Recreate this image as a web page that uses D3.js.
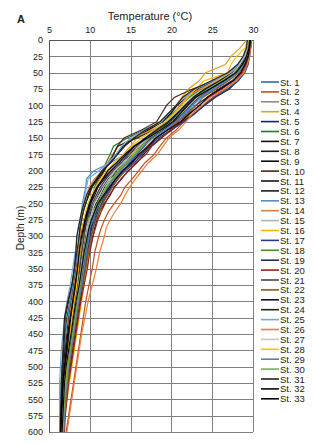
<!DOCTYPE html>
<html>
<head>
<meta charset="utf-8">
<script src="https://cdn.jsdelivr.net/npm/d3@7"></script>
<style>
  body { margin: 0; background: #fff; }
  text { font-family: "Liberation Sans", Arial, sans-serif; fill: #222; }
</style>
</head>
<body>
<div id="chart"></div>
<script>
// depth levels (m) and temperature profiles (°C) per station
var depths = [0, 12.5, 25, 37.5, 50, 62.5, 75, 87.5, 100, 112.5, 125, 137.5, 150,
              162.5, 175, 187.5, 200, 212.5, 225, 237.5, 250, 262.5, 275, 287.5, 300,
              325, 350, 375, 400, 425, 450, 475, 500, 525, 550, 575, 600];

var st1  = [29.6, 29.5, 29.2, 28.9, 28.1, 26.9, 25.4, 23.6, 22.3, 21.6, 20.3, 18.9, 17.6, 16.4, 15.6, 14.8, 13.6, 12.9, 12.2, 11.8, 11.1, 10.7, 10.4, 10.2, 10.0, 9.6, 9.3, 9.0, 8.6, 8.3, 8.0, 7.7, 7.4, 7.2, 7.0, 6.8, 6.7];
var st2  = [29.8, 29.7, 29.5, 29.2, 28.7, 27.9, 26.6, 25.1, 23.9, 22.6, 21.5, 20.6, 19.4, 18.6, 17.9, 16.8, 16.0, 15.2, 14.3, 13.8, 13.0, 12.3, 11.8, 11.4, 11.1, 10.6, 10.3, 9.9, 9.5, 9.2, 8.9, 8.6, 8.3, 8.0, 7.7, 7.4, 7.1];
var st3  = [29.4, 29.3, 29.0, 28.4, 27.6, 26.0, 24.3, 22.9, 21.8, 20.6, 19.7, 18.0, 16.9, 15.3, 14.6, 13.9, 12.8, 12.0, 11.3, 10.9, 10.4, 10.1, 9.8, 9.7, 9.5, 9.3, 9.0, 8.7, 8.4, 8.1, 7.8, 7.5, 7.3, 7.1, 6.9, 6.8, 6.7];
var st4  = [29.2, 28.4, 27.3, 26.6, 24.2, 23.4, 22.1, 21.3, 20.6, 19.8, 18.7, 17.4, 15.8, 15.0, 14.1, 13.3, 12.4, 11.5, 10.9, 10.5, 10.0, 9.8, 9.5, 9.3, 9.3, 9.1, 8.9, 8.6, 8.3, 8.0, 7.7, 7.5, 7.2, 7.0, 6.8, 6.7, 6.6];
var st5  = [29.7, 29.6, 29.4, 29.1, 28.5, 27.4, 25.8, 24.4, 23.0, 21.9, 20.6, 19.5, 18.1, 17.2, 16.3, 15.1, 14.2, 13.1, 12.6, 11.9, 11.4, 10.9, 10.6, 10.2, 10.1, 9.7, 9.4, 9.1, 8.7, 8.4, 8.1, 7.8, 7.5, 7.3, 7.1, 6.9, 6.8];
var st6  = [29.5, 29.4, 29.1, 28.6, 27.5, 25.8, 23.6, 22.2, 21.2, 20.1, 19.0, 16.7, 14.6, 12.9, 12.5, 12.0, 11.6, 11.0, 10.6, 10.3, 10.0, 9.8, 9.6, 9.4, 9.3, 9.0, 8.8, 8.5, 8.2, 7.9, 7.6, 7.4, 7.1, 6.9, 6.8, 6.7, 6.6];
var st7  = [29.6, 29.5, 29.2, 28.8, 27.9, 26.4, 24.8, 23.1, 22.0, 21.1, 20.0, 18.6, 17.3, 16.2, 15.2, 14.4, 13.5, 12.4, 11.8, 11.3, 10.8, 10.3, 10.0, 9.7, 9.5, 9.1, 8.8, 8.5, 8.1, 7.8, 7.5, 7.2, 7.0, 6.8, 6.7, 6.6, 6.5];
var st8  = [29.8, 29.7, 29.5, 29.3, 28.9, 28.1, 27.1, 25.4, 24.1, 22.8, 21.3, 20.1, 18.7, 17.5, 16.6, 15.8, 14.7, 13.9, 13.0, 12.5, 11.8, 11.2, 10.9, 10.6, 10.4, 9.9, 9.6, 9.2, 8.8, 8.5, 8.2, 7.9, 7.6, 7.3, 7.1, 6.9, 6.8];
var st9  = [29.3, 29.2, 28.9, 28.3, 27.2, 25.3, 23.2, 21.9, 20.7, 19.9, 18.9, 17.2, 15.5, 14.1, 13.3, 12.4, 11.7, 10.9, 10.2, 9.8, 9.5, 9.2, 9.0, 8.8, 8.7, 8.6, 8.4, 8.1, 7.7, 7.4, 7.2, 7.0, 6.8, 6.6, 6.5, 6.4, 6.4];
var st10 = [29.7, 29.6, 29.3, 28.7, 27.4, 25.2, 22.6, 20.4, 19.4, 18.8, 18.2, 16.4, 14.2, 13.4, 12.9, 12.3, 11.8, 11.2, 10.7, 10.4, 10.1, 9.9, 9.7, 9.5, 9.4, 9.2, 8.9, 8.7, 8.4, 8.1, 7.8, 7.5, 7.3, 7.1, 6.9, 6.8, 6.7];
var st11 = [29.5, 29.4, 29.2, 28.8, 28.0, 26.6, 24.9, 23.4, 22.6, 21.4, 20.4, 19.0, 17.5, 16.1, 14.9, 14.2, 13.2, 12.3, 11.6, 11.0, 10.5, 10.1, 9.8, 9.5, 9.4, 9.1, 8.9, 8.6, 8.3, 7.9, 7.6, 7.3, 7.1, 6.9, 6.7, 6.6, 6.5];
var st12 = [29.4, 29.3, 29.0, 28.5, 27.6, 26.1, 24.5, 22.8, 21.6, 20.9, 19.9, 18.3, 17.0, 15.9, 14.8, 13.8, 12.6, 11.6, 10.9, 10.3, 9.9, 9.6, 9.3, 9.1, 8.9, 8.6, 8.3, 8.0, 7.6, 7.2, 7.0, 6.9, 6.8, 6.7, 6.6, 6.5, 6.4];
var st13 = [29.6, 29.5, 29.3, 28.9, 28.2, 26.8, 25.2, 23.7, 22.6, 21.8, 20.7, 19.3, 17.6, 16.0, 14.3, 12.6, 10.5, 9.6, 9.5, 9.3, 9.1, 9.0, 8.9, 8.8, 8.7, 8.5, 8.2, 7.9, 7.6, 7.3, 7.0, 6.8, 6.6, 6.5, 6.4, 6.4, 6.3];
var st14 = [29.5, 29.4, 29.1, 28.5, 27.3, 25.5, 23.5, 21.9, 21.0, 20.3, 19.4, 17.6, 15.3, 13.5, 12.8, 12.2, 11.5, 10.6, 9.9, 9.6, 9.4, 9.2, 9.0, 8.9, 8.8, 8.6, 8.4, 8.1, 7.8, 7.5, 7.3, 7.1, 6.9, 6.8, 6.7, 6.6, 6.5];
var st15 = [29.3, 29.1, 28.8, 28.2, 27.0, 25.4, 23.9, 22.5, 21.5, 20.4, 19.5, 18.1, 16.7, 15.6, 14.8, 13.7, 12.9, 12.0, 11.4, 10.9, 10.4, 10.0, 9.8, 9.6, 9.4, 9.1, 8.9, 8.6, 8.3, 8.0, 7.7, 7.4, 7.2, 7.0, 6.8, 6.7, 6.6];
var st16 = [29.5, 29.3, 29.0, 28.3, 27.2, 25.7, 24.0, 22.7, 21.8, 20.7, 19.6, 18.4, 17.0, 16.2, 15.3, 14.6, 13.5, 12.9, 12.4, 11.8, 11.3, 11.0, 10.7, 10.4, 10.2, 9.9, 9.6, 9.3, 9.0, 8.7, 8.4, 8.1, 7.8, 7.5, 7.2, 6.9, 6.8];
var st17 = [29.8, 29.7, 29.6, 29.4, 29.0, 28.2, 26.9, 25.3, 24.0, 22.9, 21.6, 20.0, 18.4, 17.3, 16.4, 15.5, 14.4, 13.4, 12.7, 12.1, 11.5, 11.0, 10.7, 10.4, 10.2, 9.8, 9.4, 9.0, 8.6, 8.3, 8.0, 7.7, 7.4, 7.2, 7.0, 6.9, 6.8];
var st18 = [29.4, 29.3, 29.1, 28.7, 27.8, 26.3, 24.4, 23.0, 22.1, 21.0, 20.0, 18.8, 17.2, 16.3, 15.5, 14.5, 13.6, 12.8, 12.1, 11.5, 11.0, 10.6, 10.3, 10.0, 9.8, 9.5, 9.2, 8.9, 8.5, 8.2, 7.9, 7.6, 7.3, 7.1, 6.9, 6.8, 6.7];
var st19 = [29.6, 29.5, 29.2, 28.8, 28.0, 26.5, 24.7, 23.3, 22.4, 21.3, 20.2, 18.9, 17.5, 16.7, 15.8, 15.0, 14.1, 13.2, 12.5, 11.8, 11.2, 10.8, 10.4, 10.1, 9.9, 9.5, 9.2, 8.8, 8.4, 8.1, 7.8, 7.5, 7.2, 7.0, 6.9, 6.8, 6.7];
var st20 = [29.7, 29.6, 29.4, 29.1, 28.6, 27.6, 26.2, 24.6, 23.4, 22.3, 21.2, 19.9, 18.8, 17.6, 16.9, 15.7, 14.8, 13.8, 13.1, 12.4, 11.9, 11.4, 11.0, 10.7, 10.4, 10.0, 9.7, 9.3, 8.9, 8.6, 8.3, 8.0, 7.7, 7.4, 7.2, 7.0, 6.9];
var st21 = [29.5, 29.4, 29.1, 28.6, 27.7, 26.0, 24.2, 22.8, 21.9, 20.8, 19.8, 18.5, 16.9, 15.8, 14.7, 13.9, 12.9, 12.0, 11.3, 10.8, 10.3, 10.0, 9.7, 9.4, 9.3, 9.0, 8.7, 8.4, 8.1, 7.8, 7.5, 7.3, 7.1, 6.9, 6.7, 6.6, 6.5];
var st22 = [29.6, 29.5, 29.3, 28.9, 28.3, 27.0, 25.5, 23.9, 23.0, 22.0, 20.8, 19.6, 18.0, 17.0, 16.1, 15.3, 14.3, 13.5, 12.8, 12.2, 11.6, 11.2, 10.8, 10.4, 10.2, 9.8, 9.5, 9.1, 8.7, 8.4, 8.1, 7.8, 7.5, 7.3, 7.1, 6.9, 6.8];
var st23 = [29.4, 29.3, 29.0, 28.5, 27.5, 25.9, 24.1, 22.7, 21.7, 20.7, 19.6, 18.2, 16.8, 15.5, 14.5, 13.6, 12.6, 11.8, 11.0, 10.6, 10.1, 9.8, 9.5, 9.3, 9.1, 8.8, 8.6, 8.3, 8.0, 7.7, 7.4, 7.2, 7.0, 6.8, 6.7, 6.6, 6.5];
var st24 = [29.5, 29.4, 29.2, 28.7, 27.9, 26.4, 24.6, 23.1, 22.2, 21.1, 20.0, 17.9, 15.8, 13.4, 12.9, 12.5, 11.7, 11.0, 10.3, 9.9, 9.5, 9.2, 9.0, 8.8, 8.7, 8.4, 8.1, 7.8, 7.4, 7.0, 6.9, 6.8, 6.7, 6.6, 6.5, 6.4, 6.4];
var st25 = [29.3, 29.2, 28.9, 28.3, 27.1, 25.1, 23.0, 21.6, 20.5, 19.7, 18.8, 16.8, 15.0, 13.9, 13.2, 12.3, 11.1, 9.8, 9.6, 9.4, 9.2, 9.0, 8.8, 8.6, 8.5, 8.2, 7.9, 7.6, 7.2, 6.9, 6.7, 6.5, 6.4, 6.3, 6.3, 6.3, 6.3];
var st26 = [29.8, 29.7, 29.6, 29.3, 28.9, 28.0, 26.5, 24.8, 23.8, 22.6, 21.8, 20.9, 19.7, 19.0, 18.3, 17.2, 16.4, 15.6, 14.9, 14.3, 13.8, 13.1, 12.5, 12.0, 11.8, 11.2, 10.8, 10.3, 9.8, 9.4, 9.0, 8.7, 8.4, 8.1, 7.8, 7.5, 7.2];
var st27 = [29.4, 29.3, 29.0, 28.4, 27.6, 26.2, 24.6, 23.2, 22.2, 21.2, 20.1, 18.7, 17.1, 16.0, 15.1, 14.2, 13.1, 12.4, 11.7, 11.2, 10.6, 10.3, 10.0, 9.7, 9.6, 9.3, 9.0, 8.7, 8.3, 8.0, 7.7, 7.4, 7.1, 6.9, 6.8, 6.7, 6.6];
var st28 = [29.5, 29.0, 28.0, 27.3, 26.9, 24.0, 23.0, 22.0, 21.3, 20.3, 19.3, 17.9, 16.3, 15.2, 14.2, 13.0, 12.1, 11.3, 10.7, 10.2, 9.8, 9.5, 9.3, 9.1, 9.0, 8.8, 8.6, 8.4, 8.1, 7.8, 7.6, 7.4, 7.2, 7.0, 6.9, 6.8, 6.7];
var st29 = [29.6, 29.5, 29.3, 28.9, 28.1, 26.7, 25.0, 23.5, 22.5, 21.5, 20.5, 19.2, 17.7, 16.6, 15.7, 14.7, 13.8, 13.0, 12.3, 11.7, 11.1, 10.7, 10.4, 10.0, 9.9, 9.6, 9.3, 9.0, 8.6, 8.3, 8.0, 7.7, 7.4, 7.2, 7.0, 6.9, 6.8];
var st30 = [29.5, 29.4, 29.1, 28.7, 27.8, 26.2, 24.5, 23.0, 22.0, 21.0, 20.1, 18.8, 17.3, 16.4, 15.5, 14.4, 13.5, 12.7, 12.0, 11.5, 10.9, 10.5, 10.2, 9.9, 9.7, 9.4, 9.1, 8.8, 8.5, 8.2, 7.9, 7.6, 7.3, 7.1, 6.9, 6.8, 6.7];
var st31 = [29.3, 29.2, 28.8, 28.1, 26.9, 24.9, 22.8, 21.4, 20.6, 19.6, 18.6, 16.9, 15.4, 14.3, 13.4, 12.6, 11.5, 10.8, 10.1, 9.6, 9.3, 9.0, 8.8, 8.6, 8.4, 8.3, 8.1, 7.8, 7.3, 6.9, 6.8, 6.7, 6.6, 6.5, 6.5, 6.4, 6.4];
var st32 = [29.7, 29.6, 29.4, 29.0, 28.5, 27.6, 26.0, 24.4, 23.5, 22.2, 21.1, 19.6, 18.1, 17.2, 16.0, 15.2, 14.0, 13.2, 12.4, 11.7, 11.0, 10.6, 10.2, 9.9, 9.7, 9.3, 9.0, 8.7, 8.3, 8.0, 7.7, 7.4, 7.1, 6.9, 6.8, 6.7, 6.6];
var st33 = [29.6, 29.5, 29.2, 28.7, 27.9, 26.4, 24.7, 23.0, 22.0, 21.1, 20.2, 18.7, 17.1, 15.4, 14.3, 13.3, 12.2, 11.6, 10.9, 10.4, 10.0, 9.7, 9.4, 9.2, 9.0, 8.7, 8.5, 8.2, 7.9, 7.6, 7.3, 7.1, 6.9, 6.7, 6.6, 6.5, 6.4];

var profiles = [st1, st2, st3, st4, st5, st6, st7, st8, st9, st10, st11,
                st12, st13, st14, st15, st16, st17, st18, st19, st20, st21, st22,
                st23, st24, st25, st26, st27, st28, st29, st30, st31, st32, st33];

var stationNames = d3.range(1, 34).map(function (i) { return "St. " + i; });

var colors = ["#2e6fb0", "#c4501e", "#8c8c8c", "#e3a21a", "#1c1f6e", "#2b7a2b",
              "#111111", "#2a1a1a", "#0d0d0d", "#4a2418", "#141414", "#1a1a1a",
              "#4f8fcc", "#d9823f", "#b3b3b3", "#f2b600", "#1f3e8c", "#4a8a28",
              "#1e2a6b", "#9a1f1f", "#454545", "#8a5a1e", "#10102a", "#1c2a1a",
              "#73a6dc", "#ee7d3c", "#c6c6c6", "#ffc000", "#5d7db3", "#76b04a",
              "#222222", "#0a0a0a", "#000000"];

var tempTicks = [5, 10, 15, 20, 25, 30];
var depthTicks = d3.range(0, 601, 25);

// layout
var margin = {top: 40, left: 49, right: 60, bottom: 12},
    width = 253 - margin.left,
    height = 432 - margin.top;

var svg = d3.select("#chart")
  .append("svg")
    .attr("width", 313)
    .attr("height", 444);

var chart = svg.append("g")
  .attr("transform", "translate(" + margin.left + "," + margin.top + ")");

var x = d3.scaleLinear().domain([5, 30]).range([0, width]);
var y = d3.scaleLinear().domain([0, 600]).range([0, height]);

// grid lines
chart.append("g")
  .selectAll("line.h")
  .data(depthTicks)
  .enter().append("line")
    .attr("x1", 0)
    .attr("x2", width)
    .attr("y1", function (d) { return Math.round(y(d)) + 0.5; })
    .attr("y2", function (d) { return Math.round(y(d)) + 0.5; })
    .attr("stroke", "#808080")
    .attr("stroke-width", 1);

chart.append("g")
  .selectAll("line.v")
  .data(tempTicks)
  .enter().append("line")
    .attr("x1", function (d) { return Math.round(x(d)) + 0.5; })
    .attr("x2", function (d) { return Math.round(x(d)) + 0.5; })
    .attr("y1", 0)
    .attr("y2", height)
    .attr("stroke", "#808080")
    .attr("stroke-width", 1);

// axes
var xAxis = d3.axisTop(x).tickValues(tempTicks).tickSize(0).tickPadding(7);
chart.append("g")
  .attr("class", "x axis")
  .call(xAxis)
  .call(function (g) { g.select(".domain").attr("stroke", "#555"); })
  .selectAll("text")
    .style("font-size", "9px")
    .attr("fill", "#222");

var yAxis = d3.axisLeft(y).tickValues(depthTicks).tickSize(0).tickPadding(6);
chart.append("g")
  .attr("class", "y axis")
  .call(yAxis)
  .call(function (g) { g.select(".domain").attr("stroke", "#555"); })
  .selectAll("text")
    .style("font-size", "9px")
    .attr("fill", "#222");

// profiles
var line = d3.line()
  .x(function (d) { return x(d[0]); })
  .y(function (d) { return y(d[1]); });

chart.append("g")
  .selectAll("path")
  .data(profiles)
  .enter().append("path")
    .attr("d", function (p) { return line(p.map(function (t, i) { return [t, depths[i]]; })); })
    .attr("fill", "none")
    .attr("stroke", function (p, i) { return colors[i]; })
    .attr("stroke-width", 1.2);

// titles
svg.append("text")
  .attr("x", 150)
  .attr("y", 20)
  .attr("text-anchor", "middle")
  .style("font-size", "11px")
  .text("Temperature (°C)");

svg.append("text")
  .attr("x", 17)
  .attr("y", 23)
  .style("font-size", "11px")
  .style("font-weight", "bold")
  .text("A");

svg.append("text")
  .attr("transform", "translate(24,228) rotate(-90)")
  .attr("text-anchor", "middle")
  .style("font-size", "10px")
  .text("Depth  (m)");

// legend
var legend = svg.append("g")
  .attr("transform", "translate(261,82)");

var item = legend.selectAll("g")
  .data(stationNames)
  .enter().append("g")
    .attr("transform", function (d, i) { return "translate(0," + (i * 9.9) + ")"; });

item.append("line")
  .attr("x1", 0)
  .attr("x2", 18)
  .attr("stroke", function (d, i) { return colors[i]; })
  .attr("stroke-width", 1.6);

item.append("text")
  .attr("x", 19)
  .attr("y", 3.5)
  .style("font-size", "9.5px")
  .text(function (d) { return d; });
</script>
</body>
</html>
